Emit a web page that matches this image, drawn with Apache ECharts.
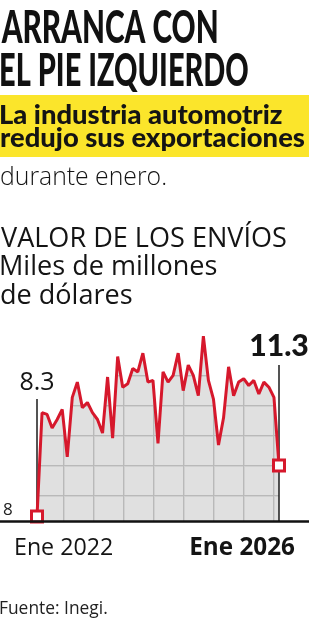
<!DOCTYPE html>
<html>
<head>
<meta charset="utf-8">
<script src="https://cdn.jsdelivr.net/npm/echarts@6.0.0/dist/echarts.min.js"></script>
<style>
html,body{margin:0;padding:0;background:#fff;}
#chart{width:309px;height:620px;}
</style>
</head>
<body>
<div id="chart"></div>
<script>
// ---------------- data ----------------
const headline = ['ARRANCA CON', 'EL PIE IZQUIERDO'];
const deck = ['La industria automotriz', 'redujo sus exportaciones'];
const deckEnd = 'durante enero.';
const chartTitle = 'VALOR DE LOS ENVÍOS';
const unitLines = ['Miles de millones', 'de dólares'];
const sourceNote = 'Fuente: Inegi.';
const monthNames = ['Ene','Feb','Mar','Abr','May','Jun','Jul','Ago','Sep','Oct','Nov','Dic'];
const years = [2022, 2023, 2024, 2025, 2026];
const categories = [];
years.forEach(function (y) {
  monthNames.forEach(function (m, i) { if (y < 2026 || i === 0) categories.push(m + ' ' + y); });
});
// Miles de millones de dólares, Ene 2022 .. Ene 2026
const values = [8.3, 14.4, 14.3, 13.5, 14.0, 14.6, 11.8, 15.3, 16.2, 14.7, 15.0, 14.4,
                14.0, 13.2, 16.5, 12.9, 17.7, 15.9, 16.1, 17.0, 16.8, 17.9, 16.2, 16.3,
                12.6, 16.8, 16.2, 16.6, 17.9, 15.7, 17.2, 16.6, 15.4, 18.9, 16.3, 15.2,
                12.5, 14.1, 17.1, 15.4, 16.2, 16.4, 16.0, 16.3, 15.5, 16.2, 15.9, 15.3,
                11.3];
const xTickLabels = ['Ene 2022', 'Ene 2026'];
const yTickValues = [8];

// ---------------- styling helpers ----------------
const RED = '#d6182c';
const INK = '#141414';
const FONT = "'Open Sans','Noto Sans',sans-serif";
const HEAD_FONT = "Lato,Roboto,'Liberation Sans',sans-serif";
const DECK_FONT = "Lato,'Open Sans',sans-serif";

const cv = document.createElement('canvas').getContext('2d');
function metrics(str, font) { cv.font = font; cv.textBaseline = 'middle'; cv.textAlign = 'left'; return cv.measureText(str); }
function inkWidth(str, font) { const m = metrics(str, font); return m.actualBoundingBoxLeft + m.actualBoundingBoxRight; }
function fitSize(str, weight, family, target) {
  return 100 * target / inkWidth(str, weight + ' 100px ' + family);
}
function textEl(str, weight, size, family, inkX, baseline, align, fill, scaleX) {
  const font = weight + ' ' + size + 'px ' + family;
  const m = metrics(str, font);
  const hm = metrics('H', font);
  const s = scaleX || 1;
  const x = align === 'right' ? inkX - m.actualBoundingBoxRight * s : inkX + m.actualBoundingBoxLeft * s;
  return {
    type: 'text', x: x, y: baseline - hm.actualBoundingBoxDescent, scaleX: s, silent: true, z: 10,
    style: { text: str, font: font, fill: fill || INK, textAlign: 'left', align: 'left',
             textVerticalAlign: 'middle', verticalAlign: 'middle' }
  };
}
function headEl(str, inkX, baseline, target) {
  const size = 46;
  const font = '900 ' + size + 'px ' + HEAD_FONT;
  const s = target / inkWidth(str, font);
  return textEl(str, '900', size, HEAD_FONT, inkX, baseline, 'left', '#111', s);
}

const deckSize = fitSize(deck[1], '900', DECK_FONT, 303);
const deckEndSize = fitSize(deckEnd, '300', FONT, 164);
const titleSize = fitSize(chartTitle, '400', FONT, 285);
const tickSize = fitSize(xTickLabels[0], '400', FONT, 96);
const tickBoldSize = fitSize(xTickLabels[1], '700', FONT, 103);
const srcSize = fitSize(sourceNote, '400', FONT, 106);
const endLabelSize = fitSize(values[values.length - 1].toFixed(1), '900', HEAD_FONT, 57);

const graphics = [
  { type: 'rect', shape: { x: 0, y: 95, width: 309, height: 62 }, style: { fill: '#fbe52b' }, silent: true, z: 1 },
  headEl(headline[0], 1, 43, 216),
  headEl(headline[1], 1, 86, 247),
  textEl(deck[0], '900', deckSize, DECK_FONT, 1, 124, 'left'),
  textEl(deck[1], '900', deckSize, DECK_FONT, 1, 147, 'left'),
  textEl(deckEnd, '300', deckEndSize, FONT, 1, 185, 'left'),
  textEl(chartTitle, '400', titleSize, FONT, 1, 247, 'left'),
  textEl(unitLines[0], '400', titleSize, FONT, 1, 275, 'left'),
  textEl(unitLines[1], '400', titleSize, FONT, 1, 304, 'left'),
  textEl(xTickLabels[0], '400', tickSize, FONT, 16, 555, 'left'),
  textEl(xTickLabels[1], '700', tickBoldSize, FONT, 295, 555, 'right'),
  textEl(sourceNote, '400', srcSize, FONT, 0, 614, 'left', '#222')
];

// grey fill with a 30px square grid, used as the area pattern (grid only shows under the line)
const tile = document.createElement('canvas');
tile.width = 30; tile.height = 30;
(function () {
  const t = tile.getContext('2d');
  t.fillStyle = '#e0e0e0'; t.fillRect(0, 0, 30, 30);
  t.fillStyle = '#d0d0d0';
  t.fillRect(4, 0, 1, 30);
  t.fillRect(0, 16, 30, 1);
  t.fillStyle = '#b9b9b9';
  t.fillRect(3, 0, 1, 30);
  t.fillRect(0, 15, 30, 1);
})();

const last = values.length - 1;
const redData = values.map(function (v, i) {
  return (i === 0 || i === last) ? { value: v, symbol: 'rect', symbolSize: 11 } : { value: v, symbol: 'none' };
});

const option = {
  animation: false,
  graphic: graphics,
  grid: [
    { left: 34, right: 30, top: 317.5, bottom: 98.5 },        // data
    { left: 0, right: 0, top: 511.5, bottom: 98.5 }           // full-width baseline
  ],
  xAxis: [
    { type: 'category', gridIndex: 0, data: categories, boundaryGap: false, splitLine: { show: false },
      axisLine: { show: false }, axisTick: { show: false }, axisLabel: { show: false } },
    { type: 'value', gridIndex: 1, min: 0, max: 1, z: 7, axisLine: { show: true, onZero: false, lineStyle: { color: '#111', width: 2.5 } },
      axisTick: { show: false }, axisLabel: { show: false }, splitLine: { show: false } }
  ],
  yAxis: [
    { type: 'value', gridIndex: 0, min: 8, max: 20, axisLine: { show: false }, axisTick: { show: false }, splitLine: { show: false },
      axisLabel: { customValues: yTickValues, formatter: function (v) { return yTickValues.indexOf(v) >= 0 ? String(v) : ''; },
                   align: 'left', margin: 34, verticalAlign: 'bottom', padding: [0, 0, 3, 0],
                   fontSize: 17, color: '#222', fontFamily: FONT } },
    { type: 'value', gridIndex: 1, min: 0, max: 1, show: false }
  ],
  series: [
    { // grey gridded area under the line + callout lines
      type: 'line', xAxisIndex: 0, yAxisIndex: 0, data: values, symbol: 'none', silent: true, z: 3,
      lineStyle: { width: 0, opacity: 0 },
      areaStyle: { color: { image: tile, repeat: 'repeat' }, opacity: 1, origin: 'start' },
      markLine: {
        silent: true, z: 5, symbol: ['none', 'none'], animation: false,
        lineStyle: { color: '#1b1b1b', width: 1.5, type: 'solid' },
        label: { show: true, position: 'end' },
        emphasis: { disabled: true },
        data: [
          [ { coord: [categories[0], values[0]],
              label: { show: true, position: 'end', formatter: values[0].toFixed(1), fontSize: 25, fontFamily: FONT, color: INK, distance: 4 } },
            { coord: [categories[0], 15.2] } ],
          [ { coord: [categories[last], 8],
              label: { show: true, position: 'end', formatter: values[last].toFixed(1), fontSize: endLabelSize, fontWeight: 900, fontFamily: HEAD_FONT, color: INK, distance: 4 } },
            { coord: [categories[last], 17.2] } ]
        ]
      }
    },
    { // red line with end markers
      type: 'line', xAxisIndex: 0, yAxisIndex: 0, data: redData, symbol: 'none', showSymbol: true, showAllSymbol: true,
      silent: true, z: 6,
      lineStyle: { color: RED, width: 3 },
      itemStyle: { color: '#ffffff', borderColor: RED, borderWidth: 3 }
    }
  ]
};

const chart = echarts.init(document.getElementById('chart'), null, { renderer: 'canvas' });
chart.setOption(option);
</script>
</body>
</html>
